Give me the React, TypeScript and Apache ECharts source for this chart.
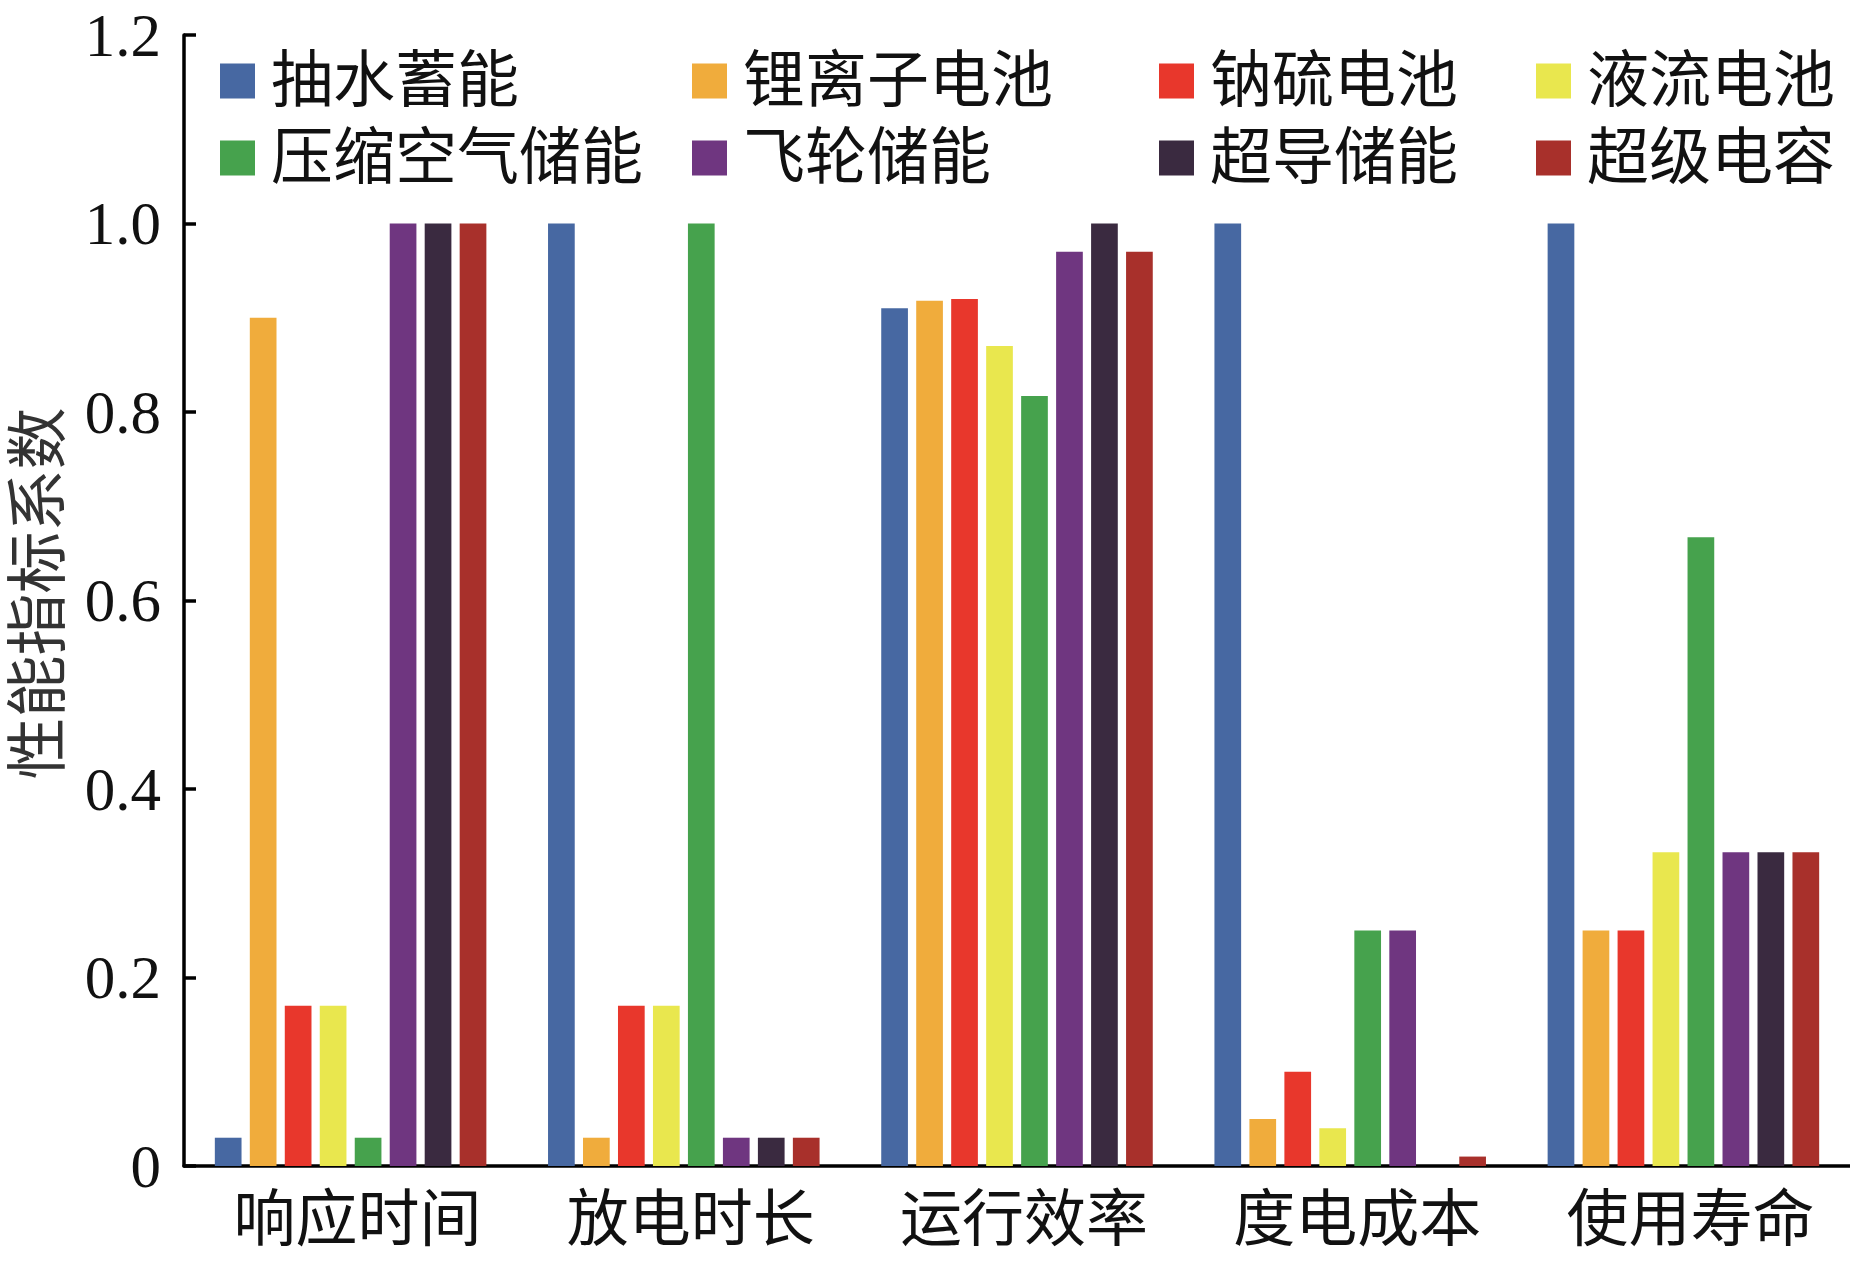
import React, { useEffect, useRef } from "react";
import * as echarts from "echarts";

const categories = ["响应时间", "放电时长", "运行效率", "度电成本", "使用寿命"];
const seriesNames = ["抽水蓄能", "锂离子电池", "钠硫电池", "液流电池", "压缩空气储能", "飞轮储能", "超导储能", "超级电容"];
const seriesColors = ["#4768A2", "#F0AC3C", "#E8372C", "#E9E74E", "#46A24D", "#6F3680", "#3A2A40", "#A8302B"];

const pumpedHydro = [0.03, 1.0, 0.91, 1.0, 1.0];
const lithiumIon = [0.9, 0.03, 0.918, 0.05, 0.25];
const sodiumSulfur = [0.17, 0.17, 0.92, 0.1, 0.25];
const flowBattery = [0.17, 0.17, 0.87, 0.04, 0.333];
const compressedAir = [0.03, 1.0, 0.817, 0.25, 0.667];
const flywheel = [1.0, 0.03, 0.97, 0.25, 0.333];
const superconducting = [1.0, 0.03, 1.0, 0, 0.333];
const supercapacitor = [1.0, 0.03, 0.97, 0.01, 0.333];

const seriesValues = [pumpedHydro, lithiumIon, sodiumSulfur, flowBattery, compressedAir, flywheel, superconducting, supercapacitor];

const yAxisName = "性能指标系数";
const FONT = "'Liberation Serif', 'Noto Sans CJK SC', serif";

// legend column layout: each column holds two entries (row 1, row 2)
const legendColumns = [
  [seriesNames[0], seriesNames[4]],
  [seriesNames[1], seriesNames[5]],
  [seriesNames[2], seriesNames[6]],
  [seriesNames[3], seriesNames[7]],
];
const legendLefts = [215, 687, 1154, 1531];

export default function App() {
  const ref = useRef<HTMLDivElement>(null);
  useEffect(() => {
    if (!ref.current) return;
    const chart = echarts.init(ref.current, undefined, { renderer: "svg" });
    const option: any = {
      animation: false,
      backgroundColor: "#ffffff",
      textStyle: { fontFamily: FONT },
      grid: { left: 179, right: -3, top: 35, bottom: 95, containLabel: false },
      legend: legendColumns.map((col, i) => ({
        orient: "vertical",
        left: legendLefts[i],
        top: 45,
        itemWidth: 35,
        itemHeight: 35,
        itemGap: 15,
        icon: "rect",
        selectedMode: false,
        data: col,
        textStyle: {
          fontFamily: FONT,
          fontSize: 62,
          lineHeight: 62,
          color: "#111",
          padding: [0, 0, 0, 11],
        },
      })),
      xAxis: {
        type: "category",
        data: categories,
        axisLine: { show: true, lineStyle: { color: "#000", width: 3.5 } },
        axisTick: { show: false },
        axisLabel: { fontFamily: FONT, fontSize: 62, color: "#111", margin: 23, padding: [0, 0, 0, 14] },
        splitLine: { show: false },
      },
      yAxis: {
        type: "value",
        min: 0,
        max: 1.2,
        interval: 0.2,
        name: yAxisName,
        nameLocation: "middle",
        nameGap: 114,
        nameTextStyle: { fontFamily: FONT, fontSize: 62, color: "#333", padding: [0, 0, 0, 14] },
        axisLine: { show: true, lineStyle: { color: "#000", width: 3.5 } },
        axisTick: { show: true, inside: true, length: 12, lineStyle: { color: "#000", width: 3.5 } },
        axisLabel: {
          fontFamily: FONT,
          fontSize: 61,
          color: "#111",
          margin: 23,
          formatter: (v: number) => (v === 0 ? "0" : v.toFixed(1)),
        },
        splitLine: { show: false },
      },
      series: seriesNames.map((name, i) => ({
        name,
        type: "bar",
        data: seriesValues[i],
        barWidth: 26.7,
        barGap: "31%",
        itemStyle: { color: seriesColors[i] },
      })),
    };
    chart.setOption(option);
    return () => chart.dispose();
  }, []);
  return (
    <div
      ref={ref}
      style={{ position: "fixed", left: 0, top: 0, width: 1850, height: 1261, background: "#fff" }}
    />
  );
}
